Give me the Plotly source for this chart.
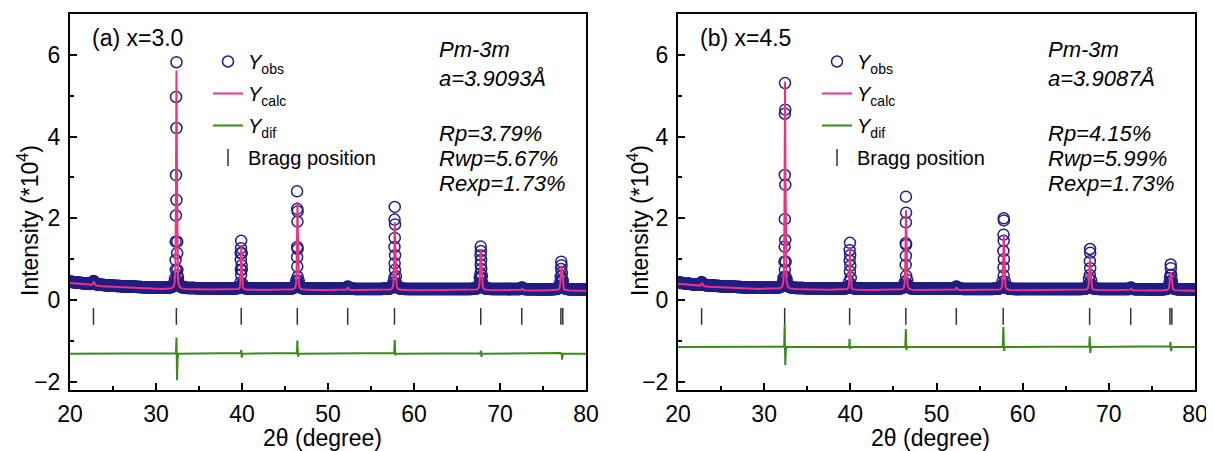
import numpy as np
import plotly.graph_objects as go

W, H = 1214, 451

# ---------------- data ----------------
# background level of the calculated profile
bg_x = [20, 22, 25, 28, 30, 35, 40, 50, 60, 70, 80]
bg_a = [0.42, 0.37, 0.32, 0.29, 0.27, 0.26, 0.25, 0.245, 0.24, 0.24, 0.23]
bg_b = [0.40, 0.35, 0.31, 0.28, 0.27, 0.26, 0.25, 0.245, 0.24, 0.24, 0.23]

# calculated reflections: position, height above background, FWHM
peak_pos_a = [22.75, 32.38, 39.92, 46.45, 52.30, 57.77, 67.78, 72.55, 77.16]
peak_h_a = [0.08, 5.35, 1.10, 2.16, 0.06, 1.66, 1.01, 0.04, 0.61]
peak_pos_b = [22.75, 32.42, 39.96, 46.46, 52.32, 57.80, 67.82, 72.57, 77.19]
peak_h_b = [0.07, 5.08, 1.02, 1.95, 0.06, 1.36, 0.76, 0.04, 0.45]
peak_fwhm = [0.20, 0.11, 0.12, 0.13, 0.18, 0.15, 0.18, 0.20, 0.22]

# observed points standing out above the background band
obs_pk_x_a = [32.38, 32.33, 32.38, 32.33, 32.38, 32.31, 32.29, 32.47, 32.46, 32.28, 32.30, 32.48, 32.47,
              39.90, 39.88, 39.85, 39.97, 39.86, 39.96, 39.87, 39.97, 39.90,
              46.40, 46.42, 46.47, 46.45, 46.42, 46.47, 46.41, 46.43, 46.47, 46.40,
              57.76, 57.74, 57.80, 57.76, 57.73, 57.80, 57.75, 57.78, 57.72,
              67.76, 67.78, 67.74, 67.80, 67.76, 67.82, 67.74, 67.80,
              77.12, 77.16, 77.10, 77.20, 77.14, 77.22]
obs_pk_y_a = [5.82, 4.97, 4.21, 3.06, 2.45, 2.07, 1.43, 1.43, 1.15, 0.98, 0.74, 0.74, 0.61,
              1.45, 1.27, 1.15, 1.15, 0.98, 0.85, 0.74, 0.74, 0.62,
              2.66, 2.23, 2.17, 1.92, 1.30, 1.25, 1.05, 0.82, 0.57, 0.45,
              2.28, 1.97, 1.85, 1.52, 1.30, 1.10, 0.90, 0.74, 0.55,
              1.31, 1.20, 1.10, 0.98, 0.87, 0.76, 0.65, 0.55,
              0.94, 0.85, 0.76, 0.67, 0.58, 0.50]
obs_pk_x_b = [32.42, 32.45, 32.40, 32.39, 32.45, 32.40, 32.45, 32.38, 32.35, 32.50, 32.40, 32.48, 32.36,
              39.96, 39.92, 39.98, 39.92, 40.00, 39.95,
              46.45, 46.47, 46.45, 46.43, 46.47, 46.45, 46.42, 46.48,
              57.80, 57.82, 57.78, 57.80, 57.76, 57.82, 57.78, 57.80,
              67.82, 67.84, 67.80, 67.84, 67.80,
              77.18, 77.20, 77.16, 77.22]
obs_pk_y_b = [5.31, 4.66, 4.56, 3.06, 2.82, 1.98, 1.47, 1.31, 0.94, 0.94, 0.74, 0.57, 0.57,
              1.40, 1.22, 1.10, 0.97, 0.84, 0.70,
              2.53, 2.14, 1.90, 1.39, 1.35, 1.08, 0.86, 0.59,
              2.00, 1.95, 1.60, 1.45, 1.20, 1.00, 0.80, 0.60,
              1.25, 1.16, 0.95, 0.78, 0.61,
              0.87, 0.78, 0.61, 0.44]

# difference curve: baseline and spikes (up / down) at the main reflections
dif_base_a = -1.31
dif_base_b = -1.15
dif_pos = [32.40, 39.93, 46.46, 57.78, 67.80, 77.17]
dif_up_a = [0.45, 0.10, 0.33, 0.34, 0.08, 0.03]
dif_dn_a = [0.66, 0.10, 0.08, 0.05, 0.08, 0.15]
dif_up_b = [0.58, 0.20, 0.45, 0.50, 0.28, 0.14]
dif_dn_b = [0.45, 0.05, 0.08, 0.10, 0.15, 0.10]

# Bragg reflections
bragg_a = [22.73, 32.37, 39.91, 46.43, 52.29, 57.73, 67.76, 72.53, 77.08, 77.30]
bragg_b = [22.74, 32.38, 39.92, 46.44, 52.30, 57.74, 67.77, 72.54, 77.09, 77.31]
bragg_level = -0.40

labels_a = ["(a) x=3.0", "Pm-3m", "a=3.9093Å", "Rp=3.79%", "Rwp=5.67%", "Rexp=1.73%"]
labels_b = ["(b) x=4.5", "Pm-3m", "a=3.9087Å", "Rp=4.15%", "Rwp=5.99%", "Rexp=1.73%"]

# ---------------- profile building ----------------
def pv(x, x0, h, w, eta=0.5):
    d = (x - x0) / w
    return h * (eta / (1 + 4 * d * d) + (1 - eta) * np.exp(-4 * np.log(2) * d * d))

def calc_profile(x, bg, pos, hts):
    y = np.interp(x, bg_x, bg)
    for p, h, w in zip(pos, hts, peak_fwhm):
        y = y + pv(x, p, h, w)
    return y

def dif_profile(x, base, ups, dns):
    y = np.full_like(x, base)
    for p, u, d in zip(dif_pos, ups, dns):
        y = y + u * np.exp(-((x - p + 0.02) / 0.035) ** 2) - d * np.exp(-((x - p - 0.05) / 0.045) ** 2)
    return y

x_fine = np.round(np.arange(20, 80.0001, 0.01), 3)
x_obs = np.round(np.arange(20, 80.0001, 0.05), 3)

FONT = "Arial, Liberation Sans, sans-serif"
NAVY = "#221e84"
PINK = "#ea3480"
GREEN = "#3c8a1e"

fig = go.Figure()

def panel(suffix, bg, pos, hts, pkx, pky, base, ups, dns, bragg, legend):
    xa = "x" + suffix
    ya = "y" + suffix
    band = calc_profile(x_obs, bg, pos, hts) + 0.03
    keep = band < 0.62
    ox = np.concatenate([x_obs[keep], np.array(pkx)])
    oy = np.concatenate([band[keep], np.array(pky)])
    fig.add_trace(go.Scatter(
        x=ox, y=oy, mode="markers", name="<i>Y</i><sub>obs</sub>",
        marker=dict(symbol="circle-open", size=11, color=NAVY, line=dict(width=1.5, color=NAVY)),
        xaxis=xa, yaxis=ya, legend=legend, legendgroup=legend + "1"))
    fig.add_trace(go.Scatter(
        x=x_fine, y=calc_profile(x_fine, bg, pos, hts), mode="lines",
        name="<i>Y</i><sub>calc</sub>", line=dict(color=PINK, width=2),
        xaxis=xa, yaxis=ya, legend=legend, legendgroup=legend + "2"))
    fig.add_trace(go.Scatter(
        x=x_fine, y=dif_profile(x_fine, base, ups, dns), mode="lines",
        name="<i>Y</i><sub>dif</sub>", line=dict(color=GREEN, width=2),
        xaxis=xa, yaxis=ya, legend=legend, legendgroup=legend + "3"))
    fig.add_trace(go.Scatter(
        x=bragg, y=[bragg_level] * len(bragg), mode="markers", name="Bragg position",
        marker=dict(symbol="line-ns", size=12, line=dict(width=1.5, color="#333333")),
        xaxis=xa, yaxis=ya, legend=legend, legendgroup=legend + "4"))

panel("", bg_a, peak_pos_a, peak_h_a, obs_pk_x_a, obs_pk_y_a, dif_base_a, dif_up_a, dif_dn_a, bragg_a, "legend")
panel("2", bg_b, peak_pos_b, peak_h_b, obs_pk_x_b, obs_pk_y_b, dif_base_b, dif_up_b, dif_dn_b, bragg_b, "legend2")

# ---------------- layout ----------------
# the page shows the figure offset by OFF pixels; targets below are screen pixels
OFF = 8
ML, MT = 70 - OFF, 14 - OFF
MR = W - (1195 - OFF)
MB = H - (390 - OFF)
PW = W - ML - MR
PH = H - MT - MB

def px(v):
    return (v - OFF - ML) / PW

def py(v):
    return (H - MB - (v - OFF)) / PH

dom_a = [0, px(586)]
dom_b = [px(678), 1]

def xax(dom, anchor):
    return dict(domain=dom, anchor=anchor, range=[20, 80], tick0=20, dtick=10,
                ticks="inside", ticklen=7, tickwidth=1.5, tickcolor="black",
                minor=dict(dtick=5, ticks="inside", ticklen=4, tickwidth=1.5, tickcolor="black"),
                showline=True, linewidth=2, linecolor="black", mirror=True,
                showgrid=False, zeroline=False, ticklabelstandoff=2, automargin=False,
                tickfont=dict(family=FONT, size=23, color="black"))

def yax(anchor):
    return dict(domain=[0, 1], anchor=anchor, range=[-2.2, 7.0], tick0=0, dtick=2,
                ticks="inside", ticklen=7, tickwidth=1.5, tickcolor="black",
                minor=dict(dtick=1, ticks="inside", ticklen=4, tickwidth=1.5, tickcolor="black"),
                showline=True, linewidth=2, linecolor="black", mirror=True,
                showgrid=False, zeroline=False, ticklabelstandoff=3, automargin=False,
                tickfont=dict(family=FONT, size=23, color="black"))

def leg(xl):
    return dict(x=px(xl), y=py(42), xanchor="left", yanchor="top",
                bgcolor="rgba(0,0,0,0)", font=dict(family=FONT, size=20, color="black"),
                tracegroupgap=3, itemwidth=30)

annotations = []
for labels, x0, xt in [(labels_a, 90, 437), (labels_b, 698, 1046)]:
    annotations.append(dict(text=labels[0], x=px(x0), y=py(38), xref="paper", yref="paper",
                            xanchor="left", yanchor="middle", showarrow=False,
                            font=dict(family=FONT, size=23, color="black")))
    for t, yy in zip(labels[1:], [50, 78, 133, 158, 183]):
        annotations.append(dict(text="<i>" + t + "</i>", x=px(xt), y=py(yy), xref="paper", yref="paper",
                                xanchor="left", yanchor="middle", showarrow=False,
                                font=dict(family=FONT, size=22, color="black")))
for xc in [28, 638]:
    annotations.append(dict(text="Intensity (*10<sup>4</sup>)", x=px(xc), y=py(221), xref="paper", yref="paper",
                            textangle=-90, showarrow=False, xanchor="center", yanchor="middle",
                            font=dict(family=FONT, size=23, color="black")))
for xc in [322, 930]:
    annotations.append(dict(text="2θ (degree)", x=px(xc), y=py(438), xref="paper", yref="paper",
                            showarrow=False, xanchor="center", yanchor="middle",
                            font=dict(family=FONT, size=23, color="black")))

fig.update_layout(
    width=W, height=H, margin=dict(l=ML, r=MR, t=MT, b=MB, autoexpand=False),
    paper_bgcolor="white", plot_bgcolor="white",
    xaxis=xax(dom_a, "y"), yaxis=yax("x"),
    xaxis2=xax(dom_b, "y2"), yaxis2=yax("x2"),
    legend=leg(208), legend2=leg(817),
    annotations=annotations,
)

fig.write_html("out.html")
